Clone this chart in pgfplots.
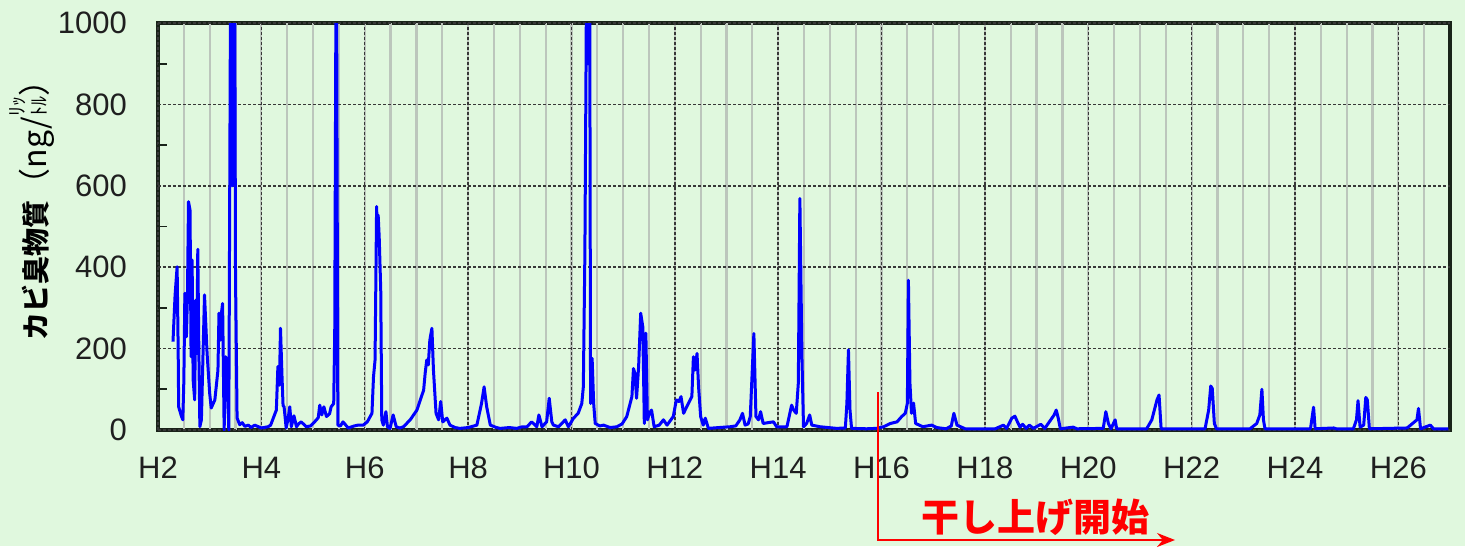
\documentclass[border=0pt]{standalone}
\usepackage{fontspec}
\setmainfont{Liberation Sans}
\newfontfamily\cjk{Noto Sans CJK JP}
\usepackage{pgfplots}
\pgfplotsset{compat=1.18}
\usetikzlibrary{arrows.meta}
\definecolor{bg}{RGB}{224,248,222}
\definecolor{minorgrid}{RGB}{188,198,188}
\definecolor{boxcol}{RGB}{25,35,25}

\begin{document}
\begin{tikzpicture}
% 1 px of the reference = 0.5pt; axis box lower left at px (158,430)
\fill[bg] (-79pt,-58pt) rectangle (653.5pt,215pt);
% axis frame, under the curve
\draw[draw=boxcol, line width=1.6pt] (0pt,0pt) -- (0pt,203.5pt) -- (646pt,203.5pt) -- (646pt,0pt) -- cycle;
\begin{axis}[
    at={(0,0)}, anchor=south west,
    scale only axis,
    width=646pt, height=203.5pt,
    xmin=2, xmax=27, ymin=0, ymax=1000,
    axis line style={draw=none},
    xtick={2,4,...,26},
    xticklabels={H2,H4,H6,H8,H10,H12,H14,H16,H18,H20,H22,H24,H26},
    minor xtick={2.5,3,...,26.5},
    ytick={0,200,...,1000},
    yticklabels={0,200,400,600,800,1000},
    minor ytick={100,300,...,900},
    ytick pos=left,
    tick align=inside,
    major tick length=0pt,
    minor tick length=4.5pt,
    minor x tick style={draw=none},
    minor y tick style={line width=0.9pt, draw=boxcol},
    xmajorgrids, xminorgrids, ymajorgrids,
    major grid style={black!78, line width=0.75pt, dash pattern=on 1.5pt off 1pt},
    minor grid style={minorgrid, line width=1.1pt},
    ticklabel style={font=\fontsize{15.5}{16}\selectfont, text=black!88},
    yticklabel style={anchor=east, xshift=-12pt},
    xticklabel style={anchor=north, yshift=-10pt},
    clip=true,
]
\addplot[blue, line width=1.5pt, line join=round] coordinates {
(2.29,217) (2.33,330) (2.37,401) (2.39,200) (2.40,57) (2.45,35) (2.48,25)
(2.50,120) (2.52,336) (2.55,229) (2.57,330) (2.59,561) (2.62,540) (2.64,180)
(2.66,418) (2.68,123) (2.71,74) (2.73,319) (2.75,188) (2.77,444) (2.79,200)
(2.81,8) (2.84,25) (2.87,180) (2.90,332) (2.95,188) (3.00,90) (3.03,54)
(3.10,74) (3.16,147) (3.18,287) (3.21,221) (3.23,290) (3.25,311) (3.28,0)
(3.31,180) (3.34,147) (3.37,0) (3.41,1300) (3.44,600) (3.46,1300) (3.48,1300)
(3.50,377) (3.53,30) (3.58,13) (3.63,18) (3.68,9) (3.75,12) (3.80,6) (3.87,12)
(4.00,5) (4.13,8) (4.18,12) (4.23,29) (4.29,49) (4.32,156) (4.35,110)
(4.37,250) (4.40,130) (4.42,60) (4.44,57) (4.48,5) (4.52,30) (4.55,57)
(4.58,8) (4.63,35) (4.68,8) (4.72,15) (4.77,20) (4.87,8) (4.95,10) (5.03,20)
(5.10,30) (5.13,61) (5.17,37) (5.21,57) (5.26,33) (5.32,40) (5.35,57)
(5.40,65) (5.42,246) (5.45,1300) (5.48,12) (5.53,10) (5.58,20) (5.68,5)
(5.80,10) (5.87,12) (5.97,12) (6.05,20) (6.14,41) (6.17,131) (6.20,172)
(6.23,549) (6.24,500) (6.26,528) (6.28,475) (6.31,344) (6.33,25) (6.36,12)
(6.41,45) (6.44,8) (6.49,4) (6.55,37) (6.61,8) (6.68,5) (6.75,8) (6.88,25)
(7.01,49) (7.14,98) (7.17,140) (7.20,172) (7.23,160) (7.26,221) (7.30,250)
(7.33,147) (7.38,41) (7.43,25) (7.47,70) (7.51,20) (7.55,25) (7.59,29)
(7.65,12) (7.75,6) (7.84,4) (8.00,6) (8.17,12) (8.26,65) (8.31,106) (8.36,57)
(8.43,12) (8.55,6) (8.62,4) (8.80,6) (8.94,4) (9.05,8) (9.14,8) (9.23,20)
(9.33,8) (9.37,37) (9.43,8) (9.52,20) (9.57,78) (9.62,20) (9.65,12) (9.75,8)
(9.88,25) (9.94,8) (10.04,29) (10.13,41) (10.20,65) (10.23,106) (10.26,434)
(10.28,843) (10.30,1300) (10.32,900) (10.35,1300) (10.37,65) (10.40,176)
(10.43,65) (10.46,16) (10.55,10) (10.62,12) (10.75,6) (10.88,8) (10.98,15)
(11.07,33) (11.17,82) (11.20,151) (11.23,139) (11.26,78) (11.30,156)
(11.34,287) (11.38,254) (11.40,100) (11.41,16) (11.44,238) (11.47,25)
(11.51,41) (11.55,49) (11.60,8) (11.70,12) (11.78,25) (11.85,12) (11.97,33)
(12.03,74) (12.08,70) (12.12,82) (12.17,41) (12.23,57) (12.33,82) (12.36,180)
(12.39,147) (12.43,188) (12.46,106) (12.50,33) (12.55,12) (12.59,29)
(12.65,4) (12.85,6) (13.07,8) (13.18,10) (13.26,25) (13.31,41) (13.36,12)
(13.42,15) (13.46,33) (13.53,237) (13.57,33) (13.62,25) (13.66,45) (13.71,16)
(13.80,18) (13.91,20) (13.97,8) (14.17,8) (14.26,61) (14.30,49) (14.35,41)
(14.39,115) (14.42,569) (14.46,180) (14.49,8) (14.55,16) (14.61,37)
(14.65,12) (14.81,8) (15.13,4) (15.30,5) (15.33,66) (15.36,197) (15.39,49)
(15.42,4) (15.71,3) (15.90,4) (16.04,8) (16.17,16) (16.30,20) (16.39,33)
(16.46,41) (16.50,66) (16.52,368) (16.55,115) (16.58,41) (16.62,66)
(16.66,16) (16.80,8) (16.97,12) (17.07,6) (17.25,3) (17.35,10) (17.40,41)
(17.46,12) (17.62,3) (18.20,3) (18.36,12) (18.42,4) (18.52,29) (18.58,34)
(18.63,20) (18.68,7) (18.73,14) (18.80,4) (18.86,12) (18.94,4) (19.08,14)
(19.16,4) (19.34,37) (19.38,49) (19.42,29) (19.46,3) (19.71,7) (19.78,3)
(20.29,4) (20.34,45) (20.39,16) (20.44,3) (20.52,25) (20.55,3) (21.13,3)
(21.23,25) (21.33,74) (21.37,86) (21.41,3) (22.26,3) (22.33,49) (22.37,108)
(22.40,102) (22.44,16) (22.48,3) (23.13,3) (23.26,16) (23.32,37) (23.36,100)
(23.39,25) (23.42,3) (24.30,3) (24.36,56) (24.39,3) (24.75,5) (24.80,3)
(25.13,3) (25.19,25) (25.22,72) (25.26,7) (25.33,12) (25.37,80) (25.40,74)
(25.44,3) (26.17,5) (26.36,25) (26.39,53) (26.43,3) (26.62,12) (26.68,3)
(26.97,3)
};
\end{axis}
% y label
\node[rotate=90, anchor=base, inner sep=0pt] at (-55.5pt,113.75pt)
  {\cjk\fontsize{14}{14}\selectfont\bfseries カビ臭物質%
   \mdseries\fontsize{16}{16}\selectfont（ng/{\fontsize{10}{10}\selectfont\shortstack{ﾘｯ\\ﾄﾙ}}）};
% start of drawdown
\draw[red, line width=0.9pt, -{Stealth[length=9pt,width=7pt]}]
  (360pt,19pt) -- (360pt,-55pt) -- (508.5pt,-55pt);
\node[red, anchor=center, inner sep=0pt] at (438.5pt,-43.5pt)
  {\cjk\fontsize{19}{19}\selectfont\bfseries 干し上げ開始};
\end{tikzpicture}
\end{document}
